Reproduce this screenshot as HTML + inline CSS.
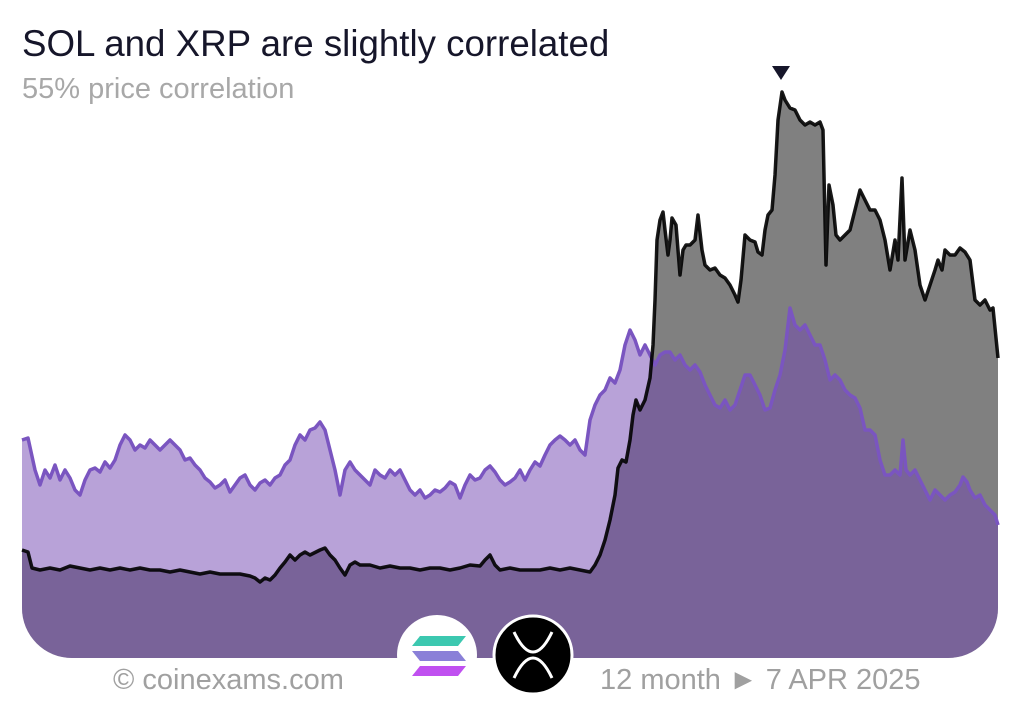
<!DOCTYPE html>
<html><head><meta charset="utf-8"><style>
html,body{margin:0;padding:0;background:#fff;}
body{width:1024px;height:702px;overflow:hidden;position:relative;font-family:"Liberation Sans",sans-serif;}
.t{position:absolute;left:22px;top:23px;font-size:36.7px;line-height:42px;color:#16162a;}
.s{position:absolute;left:22px;top:72px;font-size:29px;line-height:34px;color:#a8a8a8;}
.f{position:absolute;top:663px;font-size:29px;line-height:34px;color:#a0a0a0;}
</style></head><body>
<svg width="1024" height="702" style="position:absolute;left:0;top:0">
<defs><clipPath id="c"><path d="M22 0 H998 V608 A50 50 0 0 1 948 658 H72 A50 50 0 0 1 22 608 Z"/></clipPath></defs>
<g clip-path="url(#c)">
<path fill="#808080" d="M22,550 L28,552 L32,568 L40,570 L50,568 L60,570 L70,566 L80,568 L90,570 L100,568 L110,570 L120,568 L130,570 L140,568 L150,570 L160,570 L170,572 L180,570 L190,572 L200,574 L210,572 L220,574 L230,574 L240,574 L250,576 L255,578 L260,582 L265,578 L270,580 L275,575 L280,568 L285,562 L290,555 L295,560 L300,555 L305,552 L310,555 L320,550 L325,548 L330,555 L335,560 L340,568 L345,575 L350,565 L355,562 L360,565 L370,565 L380,568 L390,566 L400,568 L410,568 L420,570 L430,568 L440,568 L450,570 L460,568 L470,565 L480,566 L485,560 L490,555 L495,565 L500,570 L510,568 L520,570 L530,570 L540,570 L550,568 L560,570 L570,568 L580,570 L590,572 L595,565 L600,555 L605,540 L610,520 L615,495 L618,468 L622,460 L626,462 L630,440 L633,415 L636,400 L640,410 L645,400 L650,378 L653,345 L655,300 L657,240 L660,220 L663,212 L665,230 L668,255 L670,240 L672,218 L676,225 L680,275 L683,250 L686,245 L690,245 L695,240 L698,215 L702,250 L705,265 L710,270 L715,268 L720,275 L725,278 L730,285 L735,295 L738,302 L741,280 L745,235 L750,240 L755,242 L758,252 L762,255 L765,230 L768,215 L772,210 L775,175 L778,120 L782,92 L785,100 L790,108 L795,110 L800,120 L805,125 L810,122 L815,125 L820,122 L823,130 L826,265 L829,185 L833,205 L836,235 L840,240 L845,235 L850,230 L855,210 L860,190 L865,200 L870,210 L875,210 L880,220 L885,240 L890,270 L895,240 L898,260 L902,178 L905,260 L910,230 L915,250 L920,285 L925,300 L930,285 L935,270 L938,260 L942,270 L945,250 L950,255 L955,255 L960,248 L965,252 L970,260 L975,300 L980,305 L985,300 L990,310 L993,308 L998,358 L998,702 L22,702 Z"/>
<path fill="rgba(113,70,177,0.5)" d="M22,440 L28,438 L35,470 L40,485 L45,470 L50,478 L55,465 L60,480 L65,470 L70,478 L75,490 L80,495 L85,480 L90,470 L95,468 L100,472 L105,462 L110,468 L115,460 L120,445 L125,435 L130,440 L135,450 L140,445 L145,448 L150,440 L155,445 L160,450 L165,445 L170,440 L175,445 L180,450 L185,460 L190,458 L195,465 L200,470 L205,478 L210,482 L215,488 L220,485 L225,480 L230,492 L235,485 L240,478 L245,475 L250,485 L255,490 L260,483 L265,480 L270,485 L275,478 L280,475 L285,465 L290,460 L295,445 L300,435 L305,440 L310,430 L315,428 L320,422 L325,430 L330,450 L335,470 L340,495 L345,470 L350,462 L355,470 L360,475 L365,480 L370,485 L375,470 L380,475 L385,478 L390,470 L395,475 L400,470 L405,480 L410,490 L415,495 L420,490 L425,498 L430,495 L435,490 L440,492 L445,488 L450,482 L455,485 L460,498 L465,485 L470,475 L475,480 L480,478 L485,470 L490,466 L495,472 L500,480 L505,485 L510,482 L515,478 L520,470 L525,480 L530,470 L535,462 L540,466 L545,455 L550,445 L555,440 L560,436 L565,440 L570,445 L575,440 L580,450 L585,455 L590,420 L595,405 L600,395 L605,390 L610,378 L615,383 L620,370 L625,345 L630,330 L635,340 L640,355 L645,345 L650,355 L655,365 L660,355 L665,352 L670,352 L675,360 L680,355 L685,365 L690,370 L695,365 L700,372 L705,385 L710,395 L715,405 L720,408 L725,400 L730,410 L735,405 L740,390 L745,375 L750,375 L755,385 L760,395 L765,410 L770,408 L775,390 L780,375 L785,350 L790,308 L795,325 L800,330 L805,325 L810,335 L815,345 L820,345 L825,360 L830,380 L835,375 L840,380 L845,390 L850,395 L855,398 L860,408 L865,430 L870,430 L875,435 L880,460 L885,475 L890,475 L895,470 L900,475 L903,440 L906,470 L910,475 L915,470 L920,480 L925,490 L930,500 L935,490 L940,495 L945,500 L950,495 L955,492 L960,485 L963,477 L967,482 L970,490 L975,498 L980,495 L985,505 L990,510 L995,515 L998,525 L998,702 L22,702 Z"/>
</g>
<path fill="none" stroke="#7a55c0" stroke-width="3.5" stroke-linejoin="round" d="M22,440 L28,438 L35,470 L40,485 L45,470 L50,478 L55,465 L60,480 L65,470 L70,478 L75,490 L80,495 L85,480 L90,470 L95,468 L100,472 L105,462 L110,468 L115,460 L120,445 L125,435 L130,440 L135,450 L140,445 L145,448 L150,440 L155,445 L160,450 L165,445 L170,440 L175,445 L180,450 L185,460 L190,458 L195,465 L200,470 L205,478 L210,482 L215,488 L220,485 L225,480 L230,492 L235,485 L240,478 L245,475 L250,485 L255,490 L260,483 L265,480 L270,485 L275,478 L280,475 L285,465 L290,460 L295,445 L300,435 L305,440 L310,430 L315,428 L320,422 L325,430 L330,450 L335,470 L340,495 L345,470 L350,462 L355,470 L360,475 L365,480 L370,485 L375,470 L380,475 L385,478 L390,470 L395,475 L400,470 L405,480 L410,490 L415,495 L420,490 L425,498 L430,495 L435,490 L440,492 L445,488 L450,482 L455,485 L460,498 L465,485 L470,475 L475,480 L480,478 L485,470 L490,466 L495,472 L500,480 L505,485 L510,482 L515,478 L520,470 L525,480 L530,470 L535,462 L540,466 L545,455 L550,445 L555,440 L560,436 L565,440 L570,445 L575,440 L580,450 L585,455 L590,420 L595,405 L600,395 L605,390 L610,378 L615,383 L620,370 L625,345 L630,330 L635,340 L640,355 L645,345 L650,355 L655,365 L660,355 L665,352 L670,352 L675,360 L680,355 L685,365 L690,370 L695,365 L700,372 L705,385 L710,395 L715,405 L720,408 L725,400 L730,410 L735,405 L740,390 L745,375 L750,375 L755,385 L760,395 L765,410 L770,408 L775,390 L780,375 L785,350 L790,308 L795,325 L800,330 L805,325 L810,335 L815,345 L820,345 L825,360 L830,380 L835,375 L840,380 L845,390 L850,395 L855,398 L860,408 L865,430 L870,430 L875,435 L880,460 L885,475 L890,475 L895,470 L900,475 L903,440 L906,470 L910,475 L915,470 L920,480 L925,490 L930,500 L935,490 L940,495 L945,500 L950,495 L955,492 L960,485 L963,477 L967,482 L970,490 L975,498 L980,495 L985,505 L990,510 L995,515 L998,525"/>
<path fill="none" stroke="#000" stroke-opacity="0.9" stroke-width="3.5" stroke-linejoin="round" d="M22,550 L28,552 L32,568 L40,570 L50,568 L60,570 L70,566 L80,568 L90,570 L100,568 L110,570 L120,568 L130,570 L140,568 L150,570 L160,570 L170,572 L180,570 L190,572 L200,574 L210,572 L220,574 L230,574 L240,574 L250,576 L255,578 L260,582 L265,578 L270,580 L275,575 L280,568 L285,562 L290,555 L295,560 L300,555 L305,552 L310,555 L320,550 L325,548 L330,555 L335,560 L340,568 L345,575 L350,565 L355,562 L360,565 L370,565 L380,568 L390,566 L400,568 L410,568 L420,570 L430,568 L440,568 L450,570 L460,568 L470,565 L480,566 L485,560 L490,555 L495,565 L500,570 L510,568 L520,570 L530,570 L540,570 L550,568 L560,570 L570,568 L580,570 L590,572 L595,565 L600,555 L605,540 L610,520 L615,495 L618,468 L622,460 L626,462 L630,440 L633,415 L636,400 L640,410 L645,400 L650,378 L653,345 L655,300 L657,240 L660,220 L663,212 L665,230 L668,255 L670,240 L672,218 L676,225 L680,275 L683,250 L686,245 L690,245 L695,240 L698,215 L702,250 L705,265 L710,270 L715,268 L720,275 L725,278 L730,285 L735,295 L738,302 L741,280 L745,235 L750,240 L755,242 L758,252 L762,255 L765,230 L768,215 L772,210 L775,175 L778,120 L782,92 L785,100 L790,108 L795,110 L800,120 L805,125 L810,122 L815,125 L820,122 L823,130 L826,265 L829,185 L833,205 L836,235 L840,240 L845,235 L850,230 L855,210 L860,190 L865,200 L870,210 L875,210 L880,220 L885,240 L890,270 L895,240 L898,260 L902,178 L905,260 L910,230 L915,250 L920,285 L925,300 L930,285 L935,270 L938,260 L942,270 L945,250 L950,255 L955,255 L960,248 L965,252 L970,260 L975,300 L980,305 L985,300 L990,310 L993,308 L998,358"/>
<path d="M772,66 L790,66 L781,80 Z" fill="#16162a"/>
<circle cx="437" cy="655" r="40" fill="#fff"/>
<path d="M420,636 L466,636 L458,646 L412,646 Z" fill="#3cc8b0"/>
<path d="M412,651 L458,651 L466,661 L420,661 Z" fill="#8a80d8"/>
<path d="M420,666 L466,666 L458,676 L412,676 Z" fill="#c050f0"/>
<circle cx="533" cy="655" r="39" fill="#000" stroke="#fff" stroke-width="3"/>
<path d="M514,632 Q533,672 552,632 M514,678 Q533,638 552,678" fill="none" stroke="#fff" stroke-width="3"/>
</svg>
<div class="t">SOL and XRP are slightly correlated</div>
<div class="s">55% price correlation</div>
<div class="f" style="left:113px">© coinexams.com</div>
<div class="f" style="left:600px">12 month ► 7 APR 2025</div>
</body></html>
